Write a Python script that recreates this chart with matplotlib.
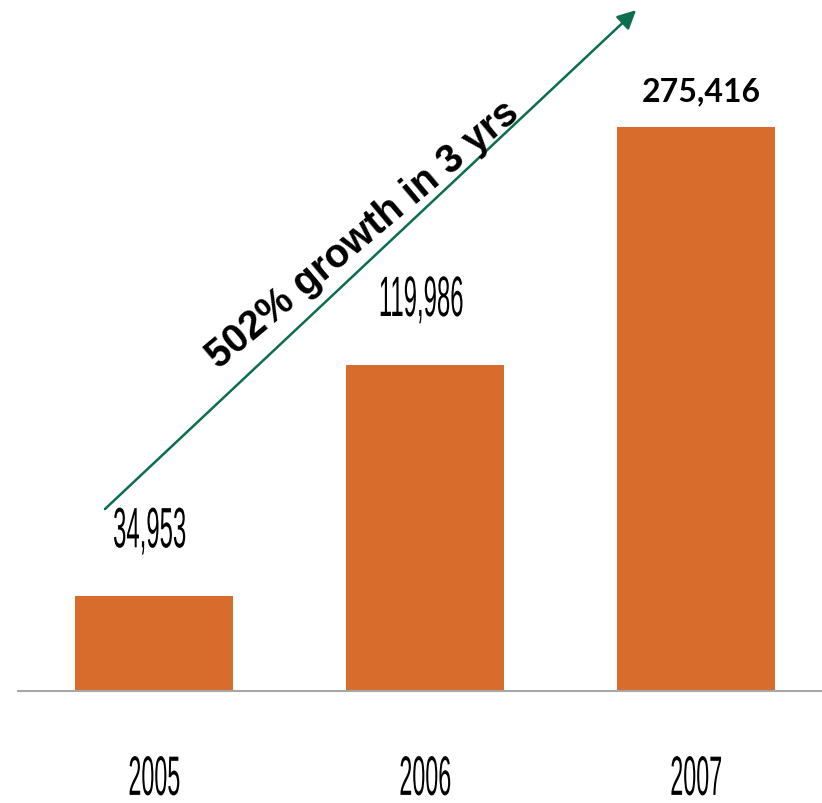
import matplotlib
matplotlib.use('Agg')
import matplotlib.pyplot as plt
import matplotlib.patheffects as pe
from matplotlib.transforms import Affine2D
from matplotlib.path import Path

years = ['2005', '2006', '2007']
users = [34953, 119986, 275416]
# heights as drawn in the picture (the 2007 bar is drawn shorter than its label)
bar_heights = [34953, 119986, 207300]
growth_text = '502% growth in 3 yrs'

bar_color = '#D86C2C'
arrow_color = '#0B6E4F'
axis_color = '#A6A6A6'


class Squeeze(pe.AbstractPathEffect):
    """squeeze glyphs horizontally around their centre (condensed font look)"""
    def __init__(self, sx):
        super().__init__()
        self.sx = sx

    def draw_path(self, renderer, gc, tpath, affine, rgbFace=None):
        v = tpath.vertices
        if tpath.codes is not None:
            v = v[tpath.codes != Path.CLOSEPOLY]
        cx = (v[:, 0].min() + v[:, 0].max()) / 2 if len(v) else 0
        sq = Affine2D().translate(-cx, 0).scale(self.sx, 1).translate(cx, 0)
        renderer.draw_path(gc, tpath, sq + affine, rgbFace)


fig = plt.figure(figsize=(8.22, 8.04), dpi=100)
ax = fig.add_axes([18 / 822, 112 / 804, 804 / 822, 692 / 804])

x = list(range(len(years)))
ax.bar(x, bar_heights, width=0.583, color=bar_color)
ax.set_xlim(-0.502, 2.465)
ax.set_ylim(0, 254400)

for s in ['top', 'right', 'left']:
    ax.spines[s].set_visible(False)
ax.spines['bottom'].set_color(axis_color)
ax.spines['bottom'].set_linewidth(1.5)
ax.set_yticks([])
ax.set_xticks(x, years)
ax.tick_params(axis='x', length=0, pad=46)
for lbl in ax.get_xticklabels():
    lbl.set_fontsize(40)
    lbl.set_family('Liberation Sans')
    lbl.set_path_effects([Squeeze(0.42)])

# value labels
for i in range(2):
    ax.annotate(f'{users[i]:,}', (x[i], bar_heights[i]), xytext=(-3, 35),
                textcoords='offset points', ha='center', va='baseline',
                fontsize=41, family='Liberation Sans',
                path_effects=[Squeeze(0.42)])
ax.annotate(f'{users[2]:,}', (x[2], bar_heights[2]), xytext=(4, 19),
            textcoords='offset points', ha='center', va='baseline',
            fontsize=23, fontweight='bold', family=['Lato', 'DejaVu Sans'])

# growth arrow
ax.annotate('', xy=(1.779, 250300), xytext=(-0.181, 66900),
            arrowprops=dict(arrowstyle='-|>', color=arrow_color, lw=1.8,
                            mutation_scale=28, shrinkA=0, shrinkB=0))
ax.text(0.772, 168000, growth_text, rotation=40, rotation_mode='anchor',
        ha='center', va='center', fontsize=28.5, fontweight='bold',
        family='Liberation Sans')

fig.savefig('out.png', dpi=100)
